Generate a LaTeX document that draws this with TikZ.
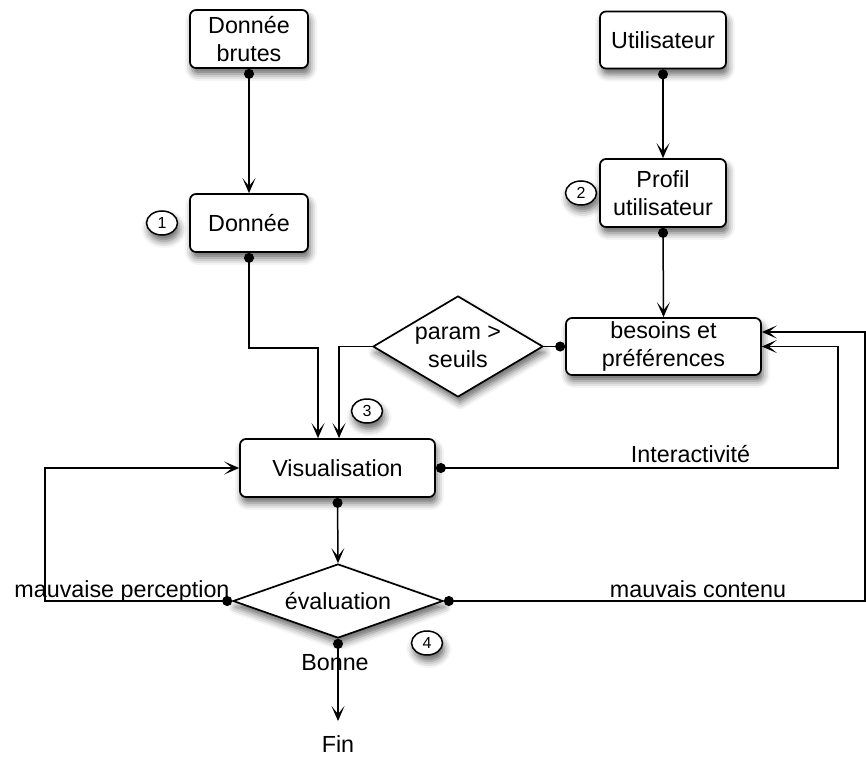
\documentclass[tikz,border=0pt]{standalone}
\usepackage{fontspec}
\setmainfont{Liberation Sans}
\usetikzlibrary{shapes.geometric,arrows.meta,shadows.blur}
\newcommand{\boxFont}[0]{\fontsize{23.3}{28}\selectfont}
\newcommand{\numFont}[0]{\fontsize{16}{18}\selectfont}

\begin{document}
\begin{tikzpicture}[x=1pt, y=-1pt, line width=1.5pt]
  \tikzset{every node/.style={font=\boxFont},
    soft shadow/.style={blur shadow={shadow xshift=2pt, shadow yshift=-6pt,
        shadow blur radius=7pt, shadow opacity=60}},
    stepbox/.style={draw, line width=1.7pt, rounded corners=6pt, fill=white, soft shadow,
      align=center, inner sep=0pt},
    choice/.style={draw, line width=1.7pt, diamond, fill=white, soft shadow, align=center, inner sep=0pt},
    num/.style={draw, ellipse, fill=white, soft shadow, font=\numFont,
      minimum width=31pt, minimum height=24pt, inner sep=0pt},
    link/.style={-{Stealth[length=15pt,width=13pt,inset=8pt]}},
    dotlink/.style={{Circle[length=10pt]}-{Stealth[length=15pt,width=13pt,inset=8pt]}},
    dotline/.style={{Circle[length=10pt]}-}}
  \useasboundingbox (0,0) rectangle (866,757);

  % numeros
  \node[num] (n1) at (162,223) {1};
  \node[num] (n2) at (581,193) {2};
  \node[num] (n3) at (367,411) {3};
  \node[num] (n4) at (427,643) {4};

  % boites
  \node[stepbox, minimum width=118pt, minimum height=58pt] (brutes) at (249,39) {Donnée\\brutes};
  \node[stepbox, minimum width=118pt, minimum height=58pt] (donnee) at (249,223) {Donnée};
  \node[stepbox, minimum width=126pt, minimum height=57pt] (util) at (663,40) {Utilisateur};
  \node[stepbox, minimum width=126pt, minimum height=68pt] (profil) at (663,193) {Profil\\utilisateur};
  \node[stepbox, minimum width=195pt, minimum height=57pt] (besoins) at (663.5,346.5) {besoins et\\préférences};
  \node[choice, shape aspect=1.68, minimum width=170pt, minimum height=101pt] (param) at (458,346.5) {param >\\seuils};
  \node[stepbox, minimum width=195pt, minimum height=58pt] (visu) at (337.5,468) {Visualisation};
  \node[choice, shape aspect=2.84, minimum width=210pt, minimum height=74pt] (eval) at (338,601) {évaluation};
  \node[anchor=base] (fin) at (338,752) {Fin};

  \coordinate (inA) at ([xshift=-19.5pt]visu.north);
  \coordinate (inB) at ([xshift=1.5pt]visu.north);
  \coordinate (edgeL) at (45,601);
  \coordinate (edgeR) at (865,601);

  % liens
  \draw[dotlink] (brutes.south) -- (donnee.north);
  \draw[dotlink] (util.south) -- (profil.north);
  \draw[dotlink] (profil.south) -- (besoins.north);
  \draw[dotlink] (donnee.south) -- ++(0,95) -| (inA);
  \draw[dotline] (besoins.west) -- (param.east);
  \draw[link] (param.west) -| (inB);
  \draw[dotlink] (visu.east) -| ([xshift=76pt]besoins.east) -- (besoins.east);
  \draw[dotlink] (visu.south) -- (eval.north);
  \draw[dotlink] (eval.west) -- (edgeL) |- (visu.west);
  \draw[dotlink] (eval.east) -- (edgeR) |- ([yshift=14.5pt]besoins.east);
  \draw[dotlink] (eval.south) -- ([yshift=10pt]fin.north);

  \node[anchor=base] (interact) at (690.5,462) {Interactivité};
  \node[anchor=base] (percep) at (122,597) {mauvaise perception};
  \node[anchor=base] (contenu) at (698,597) {mauvais contenu};
  \node[anchor=base] (bonne) at (335,670) {Bonne};
\end{tikzpicture}
\end{document}
